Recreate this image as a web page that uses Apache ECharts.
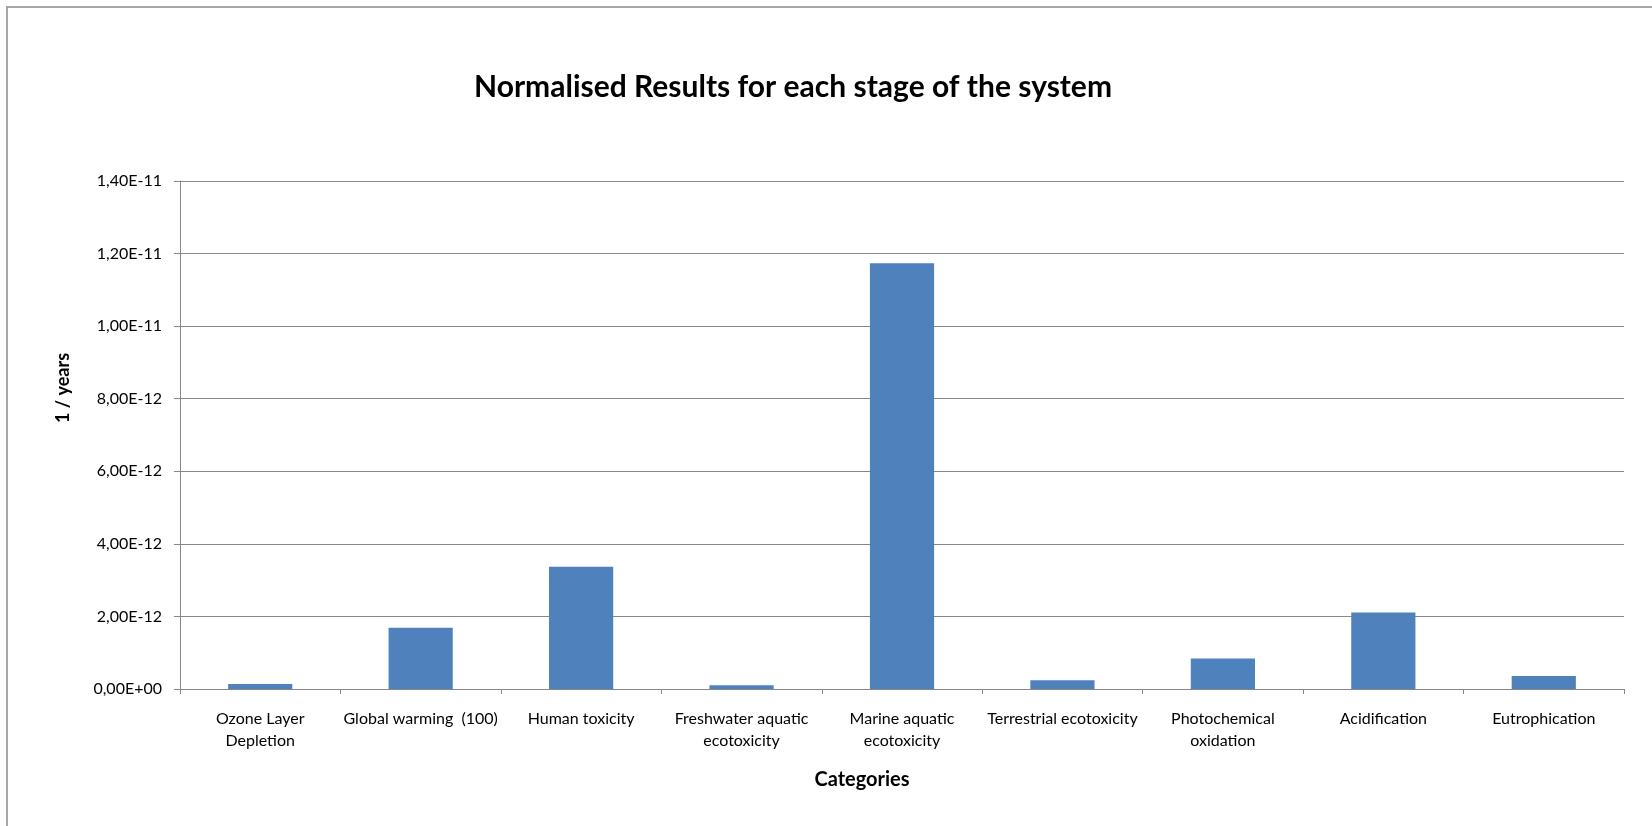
<!DOCTYPE html>
<html>
<head>
<meta charset="utf-8">
<script src="https://cdn.jsdelivr.net/npm/echarts@6/dist/echarts.min.js"></script>
<style>
    html, body { margin: 0; padding: 0; background: #fff; }
    #chart { width: 1652px; height: 826px; }
</style>
</head>
<body>
<div id="chart"></div>
<script type="text/javascript">
    // categories as they are wrapped on the axis
    var categories = [
        'Ozone Layer\nDepletion',
        'Global warming  (100)',
        'Human toxicity',
        'Freshwater aquatic\necotoxicity',
        'Marine aquatic\necotoxicity',
        'Terrestrial ecotoxicity',
        'Photochemical\noxidation',
        'Acidification',
        'Eutrophication'
    ];
    // normalised results, 1/years
    var values = [1.4e-13, 1.69e-12, 3.37e-12, 1.0e-13, 1.173e-11, 2.4e-13, 8.4e-13, 2.11e-12, 3.6e-13];

    var titleText = 'Normalised Results for each stage of the system';
    var yName = '1 / years';
    var xName = 'Categories';

    var chart = echarts.init(document.getElementById('chart'));

    // 1.40E-11 style, comma decimal
    function fmt(v) {
        var s = v.toExponential(2);
        var parts = s.split('e');
        var exp = parseInt(parts[1], 10);
        var sign = exp < 0 ? '-' : '+';
        var e = Math.abs(exp);
        return parts[0].replace('.', ',') + 'E' + sign + (e < 10 ? '0' + e : e);
    }

    var font = 'Lato, "Open Sans", sans-serif';

    var option = {
        backgroundColor: '#fff',
        textStyle: { fontFamily: font },
        title: {
            text: titleText,
            left: 469,
            top: 67,
            textStyle: { fontFamily: font, fontSize: 30, fontWeight: 'bold', color: '#000' }
        },
        grid: { left: 180, right: 28, top: 181, bottom: 137 },
        xAxis: {
            type: 'category',
            data: categories,
            axisLine: { lineStyle: { color: '#878787', width: 1 } },
            axisTick: { show: true, length: 5, lineStyle: { color: '#878787' } },
            axisLabel: { interval: 0, margin: 19, fontSize: 16, lineHeight: 22, color: '#000', fontFamily: font }
        },
        yAxis: {
            type: 'value',
            min: 0,
            max: 1.4e-11,
            interval: 2e-12,
            axisLine: { show: true, lineStyle: { color: '#878787', width: 1 } },
            axisTick: { show: true, length: 6, lineStyle: { color: '#878787' } },
            splitLine: { lineStyle: { color: '#878787', width: 1 } },
            axisLabel: { margin: 18, fontSize: 16, color: '#000', fontFamily: font, formatter: fmt }
        },
        graphic: [
            {
                type: 'rect',
                shape: { x: 7, y: 7, width: 1800, height: 1000 },
                style: { fill: 'none', stroke: '#a6a6a6', lineWidth: 2 },
                silent: true
            },
            {
                type: 'text',
                x: 63,
                y: 388,
                rotation: Math.PI / 2,
                style: {
                    text: yName, fontFamily: font, fontSize: 18, fontWeight: 'bold', fill: '#000',
                    textAlign: 'center', textVerticalAlign: 'middle'
                }
            },
            {
                type: 'text',
                x: 862,
                y: 780,
                style: {
                    text: xName, fontFamily: font, fontSize: 20, fontWeight: 'bold', fill: '#000',
                    textAlign: 'center', textVerticalAlign: 'middle'
                }
            }
        ],
        series: [
            {
                type: 'bar',
                data: values,
                barWidth: '40%',
                itemStyle: { color: '#4F81BD' },
                animation: false
            }
        ],
        animation: false
    };

    chart.setOption(option);
</script>
</body>
</html>
